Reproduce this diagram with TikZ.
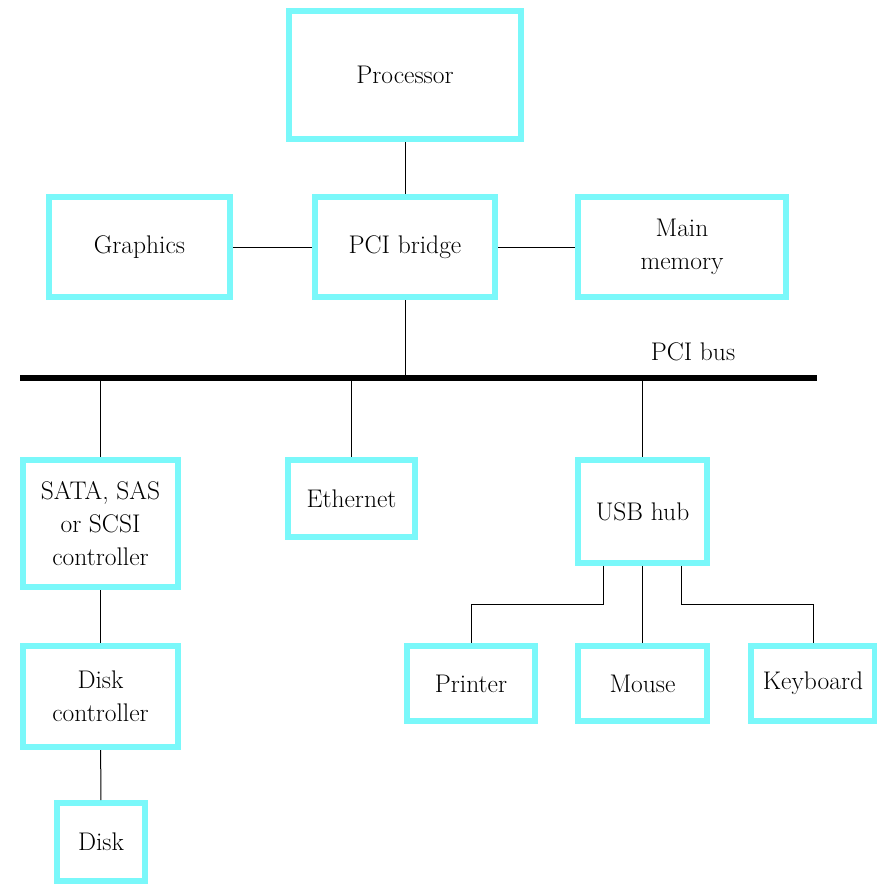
\documentclass[tikz,border=0pt]{standalone}
\usepackage{fontspec}
\definecolor{boxcyan}{RGB}{122,248,250}
\tikzset{
  unit/.style={draw=boxcyan,line width=6pt,fill=white,inner sep=0pt,align=center,
    font=\fontsize{25.5}{33}\selectfont},
  wire/.style={line width=1pt}
}

\begin{document}
\begin{tikzpicture}[x=1pt,y=-1pt]
  \useasboundingbox (0,0) rectangle (877,884);
  \node[unit,minimum width=232pt,minimum height=128pt] (cpu) at (405,75) {Processor};
  \node[unit,minimum width=181pt,minimum height=100pt] (gfx) at (139.5,247) {Graphics};
  \node[unit,minimum width=180pt,minimum height=100pt] (bridge) at (405,247) {PCI bridge};
  \node[unit,minimum width=208pt,minimum height=100pt] (mem) at (682,247) {Main\\memory};
  \coordinate (bus-l) at (20,378);
  \coordinate (bus-r) at (817,378);
  \node[font=\fontsize{25.5}{33}\selectfont] (buslabel) at (693,352) {PCI bus};
  \node[unit,minimum width=155pt,minimum height=127pt] (sata) at (100.5,523.5) {SATA, SAS\\or SCSI\\controller};
  \node[unit,minimum width=127pt,minimum height=77pt] (eth) at (351.5,498.5) {Ethernet};
  \node[unit,minimum width=129pt,minimum height=103pt] (usb) at (642.5,511.5) {USB hub};
  \node[unit,minimum width=155pt,minimum height=101pt] (dctl) at (100.5,696.5) {Disk\\controller};
  \node[unit,minimum width=88pt,minimum height=78pt] (disk) at (101,842) {Disk};
  \node[unit,minimum width=128pt,minimum height=75pt] (prn) at (471,683.5) {Printer};
  \node[unit,minimum width=129pt,minimum height=75pt] (mouse) at (642.5,683.5) {Mouse};
  \node[unit,minimum width=124pt,minimum height=75pt] (kbd) at (813,683.5) {Keyboard};
  \draw[line width=6pt] (bus-l) -- (bus-r);
  \path[wire]
    (cpu) edge (bridge)
    (gfx) edge (bridge)
    (bridge) edge (mem)
    (bridge.south) edge (bridge.south |- bus-l)
    (sata.north |- bus-l) edge (sata.north)
    (eth.north |- bus-l) edge (eth.north)
    (usb.north |- bus-l) edge (usb.north)
    (sata) edge (dctl)
    (dctl) edge (disk)
    (usb) edge (mouse);
  \draw[wire] ([xshift=-39pt]usb.south) |- (prn.north |- 0,604) -- (prn.north);
  \draw[wire] ([xshift=39pt]usb.south) |- (kbd.north |- 0,604) -- (kbd.north);
\end{tikzpicture}
\end{document}
